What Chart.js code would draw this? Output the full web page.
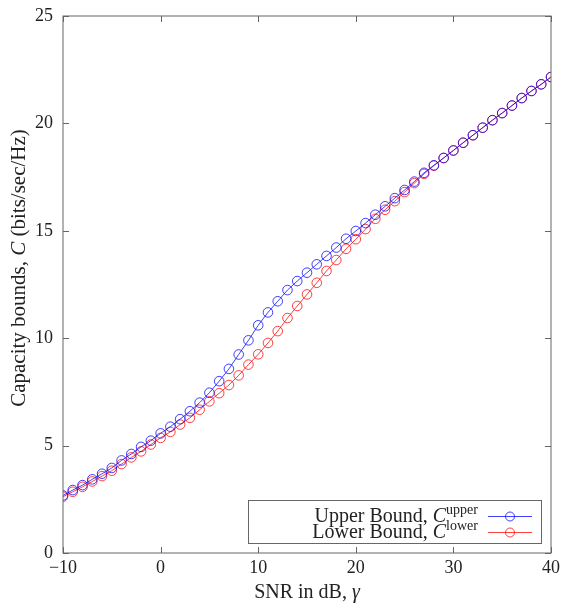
<!DOCTYPE html>
<html>
<head>
<meta charset="utf-8">
<script src="https://cdn.jsdelivr.net/npm/chart.js@4.4.1/dist/chart.umd.min.js"></script>
<style>
  html, body { margin: 0; padding: 0; background: #fff; }
  #wrap { width: 561px; height: 605px; }
</style>
</head>
<body>
<div id="wrap"><canvas id="capacity"></canvas></div>
<script>
// SNR grid, dB
var snrDb = [-10, -9, -8, -7, -6, -5, -4, -3, -2, -1, 0, 1, 2, 3, 4, 5, 6, 7, 8, 9, 10,
  11, 12, 13, 14, 15, 16, 17, 18, 19, 20, 21, 22, 23, 24, 25, 26, 27, 28, 29, 30,
  31, 32, 33, 34, 35, 36, 37, 38, 39, 40];

var upperBound = [2.68, 2.93, 3.16, 3.43, 3.69, 3.96, 4.31, 4.61, 4.94, 5.23, 5.57,
  5.88, 6.23, 6.60, 7.00, 7.46, 8.00, 8.57, 9.24, 9.90, 10.60,
  11.20, 11.72, 12.24, 12.66, 13.05, 13.44, 13.83, 14.22, 14.63, 14.99,
  15.36, 15.75, 16.14, 16.52, 16.90, 17.29, 17.70, 18.05, 18.39, 18.74,
  19.10, 19.45, 19.80, 20.15, 20.48, 20.83, 21.18, 21.51, 21.82, 22.16];

var lowerBound = [2.62, 2.85, 3.08, 3.33, 3.58, 3.83, 4.14, 4.45, 4.73, 5.05, 5.36,
  5.64, 5.98, 6.29, 6.67, 7.06, 7.44, 7.82, 8.27, 8.77, 9.25,
  9.78, 10.33, 10.94, 11.50, 12.04, 12.58, 13.13, 13.64, 14.16, 14.61,
  15.08, 15.56, 15.98, 16.38, 16.80, 17.22, 17.65, 18.03, 18.39, 18.74,
  19.10, 19.45, 19.80, 20.15, 20.48, 20.83, 21.18, 21.51, 21.82, 22.16];

var xTicks = [-10, 0, 10, 20, 30, 40];
var yTicks = [0, 5, 10, 15, 20, 25];

var SERIF = '"Liberation Serif", "DejaVu Serif", serif';
var TEXT = '#222';
var FRAME = '#666';
var BLUE = 'rgba(0,0,255,0.75)';
var RED = 'rgba(255,0,0,0.75)';

function toPoints(ys)
{
  return snrDb.map(function(x, i) { return {x: x, y: ys[i]}; });
}

function fmt(v)
{
  return v < 0 ? '\u2212' + Math.abs(v) : String(v);
}

// width of a run of [text, font] pieces
function runWidth(ctx, parts)
{
  var w = 0;
  parts.forEach(function(p) { ctx.font = p[1]; w += ctx.measureText(p[0]).width; });
  return w;
}

function drawRun(ctx, parts, x, y)
{
  parts.forEach(function(p) {
    ctx.font = p[1];
    ctx.fillText(p[0], x, y + (p[2] || 0));
    x += ctx.measureText(p[0]).width;
  });
}

var framePlugin = {
  id: 'frame',
  afterDraw: function(chart) {
    var ctx = chart.ctx;
    var a = chart.chartArea;
    var xs = chart.scales.x, ys = chart.scales.y;
    ctx.save();
    ctx.strokeStyle = FRAME;
    ctx.lineWidth = 1;
    ctx.strokeRect(a.left, a.top, a.right - a.left, a.bottom - a.top);

    // inward ticks on all four sides
    ctx.beginPath();
    xTicks.forEach(function(v) {
      var px = Math.round(xs.getPixelForValue(v)) + 0.5;
      ctx.moveTo(px, a.bottom); ctx.lineTo(px, a.bottom - 6);
      ctx.moveTo(px, a.top); ctx.lineTo(px, a.top + 6);
    });
    yTicks.forEach(function(v) {
      var py = Math.round(ys.getPixelForValue(v)) + 0.5;
      ctx.moveTo(a.left, py); ctx.lineTo(a.left + 6, py);
      ctx.moveTo(a.right, py); ctx.lineTo(a.right - 6, py);
    });
    ctx.stroke();

    ctx.fillStyle = TEXT;
    ctx.textBaseline = 'middle';
    ctx.font = '18px ' + SERIF;
    ctx.textAlign = 'center';
    xTicks.forEach(function(v) {
      ctx.fillText(fmt(v), xs.getPixelForValue(v), 568);
    });
    ctx.textAlign = 'right';
    yTicks.forEach(function(v) {
      ctx.fillText(fmt(v), 53, ys.getPixelForValue(v));
    });

    // axis titles
    var rm = '20px ' + SERIF, it = 'italic 20px ' + SERIF;
    ctx.textAlign = 'left';
    ctx.textBaseline = 'alphabetic';
    var xt = [['SNR in dB, ', rm], ['\u03b3', it]];
    drawRun(ctx, xt, (a.left + a.right) / 2 - runWidth(ctx, xt) / 2, 598);

    var yrm = '21px ' + SERIF, yit = 'italic 21px ' + SERIF;
    var yt = [['Capacity bounds, ', yrm], ['C', yit], [' (bits/sec/Hz)', yrm]];
    ctx.translate(25, 268);
    ctx.rotate(-Math.PI / 2);
    drawRun(ctx, yt, -runWidth(ctx, yt) / 2, 0);
    ctx.restore();

    // legend box
    ctx.save();
    ctx.strokeStyle = FRAME;
    ctx.lineWidth = 1;
    ctx.strokeRect(248.5, 500.5, 293, 43);
    var lg = '20px ' + SERIF, lgi = 'italic 20px ' + SERIF, sup = '14px ' + SERIF;
    var rows = [
      {parts: [['Upper Bound, ', lg], ['C', lgi], ['upper', sup, -8]], y: 522, ly: 516, color: BLUE},
      {parts: [['Lower Bound, ', lg], ['C', lgi], ['lower', sup, -8]], y: 538, ly: 532, color: RED}
    ];
    ctx.fillStyle = TEXT;
    ctx.textAlign = 'left';
    ctx.textBaseline = 'alphabetic';
    rows.forEach(function(r) {
      drawRun(ctx, r.parts, 478 - runWidth(ctx, r.parts), r.y);
      ctx.strokeStyle = r.color;
      ctx.beginPath();
      ctx.moveTo(488, r.ly + 0.5); ctx.lineTo(532, r.ly + 0.5);
      ctx.stroke();
      ctx.beginPath();
      ctx.arc(510, r.ly + 0.5, 4.5, 0, Math.PI * 2);
      ctx.stroke();
    });
    ctx.restore();
  }
};

var ctx = document.getElementById('capacity');
var capacityChart = new Chart(ctx, {
  type: 'line',
  data: {
    datasets: [
      {
        label: 'Upper Bound',
        data: toPoints(upperBound),
        borderColor: BLUE,
        borderWidth: 1,
        pointStyle: 'circle',
        pointRadius: 4.8,
        pointBorderWidth: 1,
        pointBackgroundColor: 'rgba(0,0,0,0)',
        pointBorderColor: BLUE,
        tension: 0
      },
      {
        label: 'Lower Bound',
        data: toPoints(lowerBound),
        borderColor: RED,
        borderWidth: 1,
        pointStyle: 'circle',
        pointRadius: 4.8,
        pointBorderWidth: 1,
        pointBackgroundColor: 'rgba(0,0,0,0)',
        pointBorderColor: RED,
        tension: 0
      }
    ]
  },
  options: {
    responsive: true,
    maintainAspectRatio: false,
    animation: false,
    layout: { padding: { left: 0, right: 10, top: 16, bottom: 0 } },
    plugins: {
      legend: { display: false },
      tooltip: { enabled: false }
    },
    scales: {
      x: {
        type: 'linear',
        min: -10,
        max: 40,
        grid: { display: false },
        border: { display: false },
        ticks: { display: false, stepSize: 10 },
        afterFit: function(scale) {
          scale.height = 52;
          scale.paddingLeft = 0;
          scale.paddingRight = 0;
        }
      },
      y: {
        min: 0,
        max: 25,
        grid: { display: false },
        border: { display: false },
        ticks: { display: false, stepSize: 5 },
        afterFit: function(scale) {
          scale.width = 63;
          scale.paddingTop = 0;
          scale.paddingBottom = 0;
        }
      }
    }
  },
  plugins: [framePlugin]
});
</script>
</body>
</html>
